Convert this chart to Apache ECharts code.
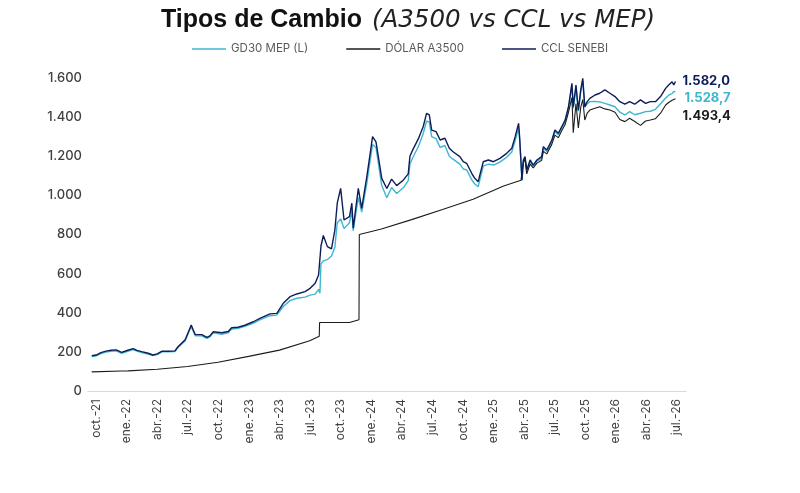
<!DOCTYPE html>
<html>
<head>
<meta charset="utf-8">
<script src="https://cdn.jsdelivr.net/npm/echarts@6/dist/echarts.min.js"></script>
<style>
  html, body { margin: 0; padding: 0; background: #fff; }
  #chart { width: 800px; height: 493px; }
</style>
</head>
<body>
<div id="chart"></div>
<script>
// quarter tick labels, one every 3 months starting oct-21
const tickLabels = ['oct.-21', 'ene.-22', 'abr.-22', 'jul.-22', 'oct.-22', 'ene.-23', 'abr.-23', 'jul.-23',
  'oct.-23', 'ene.-24', 'abr.-24', 'jul.-24', 'oct.-24', 'ene.-25', 'abr.-25', 'jul.-25', 'oct.-25',
  'ene.-26', 'abr.-26', 'jul.-26'];

// shared dates for GD30 MEP and CCL SENEBI
const fxDates = [
  '2021-09-18', '2021-10-01', '2021-10-15', '2021-10-30', '2021-11-15', '2021-11-30', '2021-12-16',
  '2022-01-02', '2022-01-20', '2022-02-01', '2022-02-15', '2022-03-04', '2022-03-18', '2022-03-31',
  '2022-04-15', '2022-05-03', '2022-05-23', '2022-06-02', '2022-06-23', '2022-07-05', '2022-07-11',
  '2022-07-17', '2022-07-23', '2022-08-12', '2022-08-27', '2022-09-06', '2022-09-16', '2022-10-11',
  '2022-10-30', '2022-11-10', '2022-11-29', '2022-12-19', '2023-01-14', '2023-02-03', '2023-03-03',
  '2023-03-23', '2023-04-12', '2023-05-02', '2023-05-22', '2023-06-16', '2023-07-01', '2023-07-16',
  '2023-07-26', '2023-07-30', '2023-08-03', '2023-08-10', '2023-08-22', '2023-09-04', '2023-09-14',
  '2023-09-21', '2023-10-01', '2023-10-11', '2023-10-27', '2023-11-04', '2023-11-08', '2023-11-23',
  '2023-12-03', '2023-12-18', '2023-12-28', '2024-01-05', '2024-01-15', '2024-01-22', '2024-02-02',
  '2024-02-17', '2024-03-01', '2024-03-16', '2024-04-06', '2024-04-20', '2024-04-25', '2024-05-04',
  '2024-05-20', '2024-06-04', '2024-06-14', '2024-06-22', '2024-06-29', '2024-07-12', '2024-07-24',
  '2024-08-08', '2024-08-21', '2024-09-02', '2024-09-22', '2024-10-02', '2024-10-12', '2024-10-27',
  '2024-11-06', '2024-11-16', '2024-12-01', '2024-12-16', '2024-12-31', '2025-01-20', '2025-02-10',
  '2025-02-25', '2025-03-05', '2025-03-15', '2025-03-18', '2025-03-25', '2025-03-29', '2025-04-04',
  '2025-04-09', '2025-04-19', '2025-04-28', '2025-05-09', '2025-05-23', '2025-05-28', '2025-06-08',
  '2025-06-23', '2025-07-02', '2025-07-12', '2025-07-22', '2025-08-02', '2025-08-12', '2025-08-22',
  '2025-08-26', '2025-09-04', '2025-09-11', '2025-09-18', '2025-09-24', '2025-09-30', '2025-10-07',
  '2025-10-15', '2025-10-30', '2025-11-14', '2025-11-29', '2025-12-14', '2025-12-29', '2026-01-13',
  '2026-01-28', '2026-02-12', '2026-02-27', '2026-03-14', '2026-03-29', '2026-04-13', '2026-04-28',
  '2026-05-13', '2026-05-28', '2026-06-07', '2026-06-17', '2026-06-22', '2026-06-27'
];

const cclValues = [
  180, 184, 196, 204, 208, 210, 197,
  207, 217, 208, 201, 193, 184, 190,
  204, 203, 205, 226, 262, 312, 337,
  312, 288, 288, 274, 282, 303, 298,
  304, 323, 326, 336, 354, 371, 394,
  397, 448, 482, 496, 508, 525, 551,
  593, 600, 740, 795, 738, 726, 823,
  960, 1036, 874, 891, 960, 832, 1036,
  934, 1095, 1215, 1300, 1274, 1198, 1087,
  1035, 1083, 1050, 1079, 1110, 1200, 1235,
  1290, 1351, 1419, 1411, 1334, 1326, 1283,
  1292, 1241, 1223, 1198, 1172, 1164, 1113,
  1087, 1070, 1172, 1181, 1172, 1189, 1215,
  1241, 1300, 1368, 1300, 1079, 1181, 1198,
  1130, 1181, 1155, 1181, 1198, 1249, 1232,
  1283, 1334, 1317, 1351, 1385, 1453, 1573,
  1453, 1564, 1436, 1539, 1598, 1453, 1479,
  1496, 1513, 1522, 1539, 1522, 1505, 1479,
  1466, 1479, 1466, 1488, 1470, 1479, 1479,
  1505, 1547, 1564, 1581, 1564, 1582.0
];

const mepValues = [
  176, 179, 191, 199, 203, 205, 193,
  202, 212, 204, 197, 189, 181, 186,
  200, 200, 202, 222, 256, 305, 328,
  306, 282, 282, 269, 277, 297, 290,
  298, 317, 320, 330, 347, 364, 385,
  388, 432, 462, 474, 480, 490, 495,
  520, 500, 650, 665, 672, 690, 735,
  860, 880, 830, 860, 920, 820, 990,
  915, 1060, 1180, 1260, 1245, 1165, 1050,
  988, 1040, 1010, 1040, 1075, 1160, 1195,
  1250, 1315, 1380, 1375, 1300, 1290, 1245,
  1255, 1200, 1185, 1160, 1135, 1130, 1080,
  1058, 1045, 1150, 1160, 1155, 1170, 1195,
  1222, 1280, 1345, 1285, 1075, 1170, 1188,
  1122, 1172, 1148, 1175, 1190, 1240, 1225,
  1275, 1325, 1310, 1345, 1378, 1445, 1560,
  1445, 1550, 1430, 1528, 1585, 1450, 1468,
  1479, 1480, 1478, 1470, 1462, 1453, 1425,
  1411, 1428, 1412, 1420, 1428, 1430, 1440,
  1468, 1498, 1512, 1520, 1532, 1528.7
];

// official wholesale rate, own dates (steps need two dates close together)
const a3500Dates = [
  '2021-09-18', '2021-12-15', '2022-01-05', '2022-03-31', '2022-06-30', '2022-09-30', '2022-12-30',
  '2023-03-31', '2023-06-30', '2023-07-28', '2023-07-29', '2023-10-27', '2023-11-25', '2023-11-26',
  '2024-01-31', '2024-04-30', '2024-07-31', '2024-10-31', '2025-01-31', '2025-03-22', '2025-03-25',
  '2025-03-29', '2025-04-04', '2025-04-09', '2025-04-19', '2025-04-28', '2025-05-09', '2025-05-23',
  '2025-05-28', '2025-06-08', '2025-06-23', '2025-07-02', '2025-07-12', '2025-07-22', '2025-08-02',
  '2025-08-12', '2025-08-22', '2025-08-26', '2025-09-04', '2025-09-11', '2025-09-18', '2025-09-24',
  '2025-09-30', '2025-10-07', '2025-10-15', '2025-10-30', '2025-11-14', '2025-11-29', '2025-12-14',
  '2025-12-29', '2026-01-13', '2026-01-28', '2026-02-12', '2026-02-27', '2026-03-14', '2026-03-29',
  '2026-04-13', '2026-04-28', '2026-05-13', '2026-05-28', '2026-06-07', '2026-06-17', '2026-06-22',
  '2026-06-27'
];

const a3500Values = [
  97.6, 102, 102.8, 111, 125.2, 147.3, 177.1,
  209, 256.7, 280, 350, 350, 364, 800,
  828, 876, 928, 980, 1048, 1077, 1070,
  1170, 1185, 1110, 1160, 1140, 1165, 1180,
  1225, 1212, 1262, 1308, 1295, 1330, 1362,
  1425, 1500, 1320, 1470, 1345, 1450, 1490,
  1385, 1420, 1436, 1445, 1453, 1442, 1436,
  1425, 1388, 1377, 1394, 1378, 1358, 1380,
  1385, 1392, 1420, 1462, 1475, 1486, 1480,
  1493.4
];

// months since oct-21
function toMonths(s) {
  let p = s.split('-').map(Number);
  return (p[0] - 2021) * 12 + (p[1] - 10) + (p[2] - 1) / 30;
};

function fmtEs(v, dec) {
  let parts = v.toFixed(dec).split('.');
  parts[0] = parts[0].replace(/\B(?=(\d{3})+(?!\d))/g, '.');
  return dec ? parts[0] + ',' + parts[1] : parts[0];
};

function pairs(dates, values) {
  return dates.map((d, i) => [toMonths(d), values[i]]);
};

const font = 'Inter, "Noto Sans", sans-serif';
const colMep = '#3db7d0';
const colA3500 = '#1c1c1c';
const colCcl = '#0e1d5a';

function endLabel(color, offset) {
  return {
    show: true,
    formatter: (p) => fmtEs(p.value[1], 1),
    color: color,
    fontFamily: font,
    fontWeight: 'bold',
    fontSize: 13,
    distance: 7,
    offset: offset
  };
};

let chart = echarts.init(document.getElementById('chart'));
chart.setOption({
  animation: false,
  title: {
    text: '{b|Tipos de Cambio}  {i|(A3500 vs CCL vs MEP)}',
    left: 156,
    top: 3,
    textStyle: {
      fontWeight: 'normal',
      rich: {
        b: { fontFamily: '"Liberation Sans", Arial, sans-serif', fontWeight: 'bold', fontSize: 25, color: '#111' },
        i: { fontFamily: '"DejaVu Sans", sans-serif', fontWeight: 'normal', fontStyle: 'italic', fontSize: 24.5, color: '#222' }
      }
    }
  },
  legend: {
    top: 38,
    left: 'center',
    icon: 'rect',
    itemWidth: 34,
    itemHeight: 1.5,
    itemGap: 38,
    textStyle: { fontFamily: font, fontSize: 11.5, color: '#595959' },
    data: ['GD30 MEP (L)', 'DÓLAR A3500', 'CCL SENEBI']
  },
  grid: { left: 88, right: 114, top: 78, bottom: 102 },
  xAxis: {
    type: 'value',
    min: -0.8,
    max: 57.9,
    axisLine: { show: true, lineStyle: { color: '#d9d9d9', width: 1 } },
    axisTick: { show: false },
    splitLine: { show: false },
    axisLabel: {
      customValues: tickLabels.map((_, i) => i * 3),
      formatter: (v) => tickLabels[Math.round(v / 3)] || '',
      rotate: 90,
      margin: 8,
      fontFamily: font,
      fontSize: 12,
      color: '#404040'
    }
  },
  yAxis: {
    type: 'value',
    min: 0,
    max: 1600,
    interval: 200,
    axisLine: { show: false },
    axisTick: { show: false },
    splitLine: { show: false },
    axisLabel: {
      formatter: (v) => fmtEs(v, 0),
      margin: 6,
      fontFamily: font,
      fontWeight: 500,
      fontSize: 13,
      color: '#404040'
    }
  },
  series: [
    {
      name: 'GD30 MEP (L)',
      type: 'line',
      symbol: 'none',
      data: pairs(fxDates, mepValues),
      color: colMep,
      lineStyle: { color: colMep, width: 1.4 },
      endLabel: endLabel(colMep, [2, 6])
    },
    {
      name: 'DÓLAR A3500',
      type: 'line',
      symbol: 'none',
      data: pairs(a3500Dates, a3500Values),
      color: colA3500,
      lineStyle: { color: colA3500, width: 1.1 },
      endLabel: endLabel(colA3500, [0, 17])
    },
    {
      name: 'CCL SENEBI',
      type: 'line',
      symbol: 'none',
      data: pairs(fxDates, cclValues),
      color: colCcl,
      lineStyle: { color: colCcl, width: 1.4 },
      endLabel: endLabel(colCcl, [0, 0])
    }
  ]
});
</script>
</body>
</html>
